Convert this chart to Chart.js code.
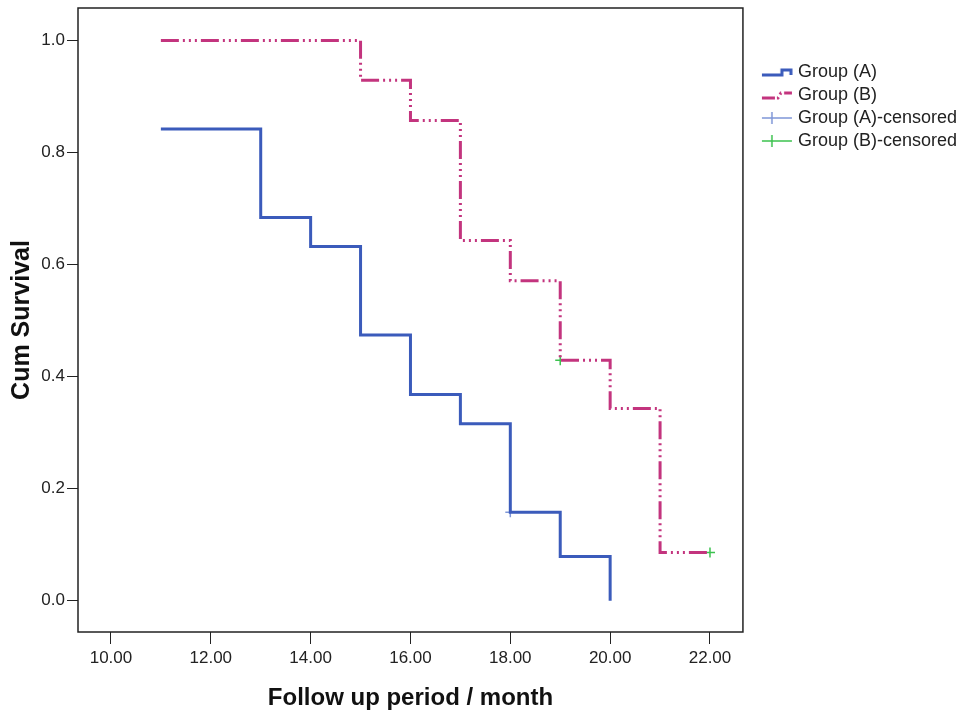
<!DOCTYPE html>
<html>
<head>
<meta charset="utf-8">
<script src="https://cdn.jsdelivr.net/npm/chart.js@4.4.0/dist/chart.umd.min.js"></script>
<style>
  body { margin: 0; background: #fff; }
</style>
</head>
<body>
<canvas id="kmChart" width="967" height="717"></canvas>
<script>
// Curvas de supervivencia (Kaplan-Meier)
const timesA = [11, 13, 14, 15, 16, 17, 18, 19, 20];
const survA = [0.842, 0.684, 0.632, 0.474, 0.368, 0.316, 0.158, 0.079, 0.0];
const timesB = [11, 15, 16, 17, 18, 19, 20, 21, 22];
const survB = [1.0, 0.929, 0.857, 0.643, 0.571, 0.429, 0.343, 0.086, 0.086];

// casos censurados
const censTimesA = [18];
const censSurvA = [0.158];
const censTimesB = [19, 22];
const censSurvB = [0.429, 0.086];

const xTicks = [10, 12, 14, 16, 18, 20, 22];
const yTicks = [0.0, 0.2, 0.4, 0.6, 0.8, 1.0];
const seriesNames = ["Group (A)", "Group (B)", "Group (A)-censored", "Group (B)-censored"];

const colorA = "#3b5bbb";
const colorB = "#c3347e";
const colorCensA = "#7f97d8";
const colorCensB = "#3cc24f";
const dashB = [18, 4, 2, 4, 2, 4, 2, 4];
const FONT = "'Liberation Sans', Arial, sans-serif";

function toPoints(xs, ys) {
  return xs.map((x, i) => ({ x: x, y: ys[i] }));
}

// iconos de la leyenda (linea escalonada / cruz)
function makeIcon(kind) {
  const c = document.createElement("canvas");
  c.width = 32;
  c.height = 14;
  const g = c.getContext("2d");
  g.lineWidth = 3;
  if (kind === "A") {
    g.strokeStyle = colorA;
    g.beginPath();
    g.moveTo(1, 10);
    g.lineTo(21, 10);
    g.lineTo(21, 5);
    g.lineTo(30, 5);
    g.lineTo(30, 10);
    g.stroke();
  } else if (kind === "B") {
    g.strokeStyle = colorB;
    g.setLineDash([13, 2, 2, 3, 2, 3]);
    g.beginPath();
    g.moveTo(1, 10);
    g.lineTo(17, 10);
    g.lineTo(20, 5);
    g.lineTo(31, 5);
    g.stroke();
  } else {
    g.lineWidth = 1.5;
    g.strokeStyle = kind === "cA" ? colorCensA : colorCensB;
    g.beginPath();
    g.moveTo(1, 7);
    g.lineTo(31, 7);
    g.moveTo(11, 1);
    g.lineTo(11, 13);
    g.stroke();
  }
  return c;
}

// marco alrededor del area del grafico
const framePlugin = {
  id: "frame",
  afterDraw(chart) {
    const { ctx, chartArea } = chart;
    ctx.save();
    ctx.strokeStyle = "#222";
    ctx.lineWidth = 1.5;
    ctx.strokeRect(chartArea.left, chartArea.top,
      chartArea.right - chartArea.left, chartArea.bottom - chartArea.top);
    ctx.restore();
  },
};

const ctx = document.getElementById("kmChart");

new Chart(ctx, {
  type: "line",
  data: {
    datasets: [
      {
        label: seriesNames[0],
        data: toPoints(timesA, survA),
        borderColor: colorA,
        borderWidth: 3,
        stepped: true,
        pointRadius: 0,
        fill: false,
      },
      {
        label: seriesNames[1],
        data: toPoints(timesB, survB),
        borderColor: colorB,
        borderWidth: 3,
        borderDash: dashB,
        stepped: true,
        pointRadius: 0,
        fill: false,
      },
      {
        label: seriesNames[2],
        data: toPoints(censTimesA, censSurvA),
        showLine: false,
        borderColor: colorCensA,
        pointRadius: 5,
        pointBorderWidth: 1.5,
        pointStyle: "cross",
      },
      {
        label: seriesNames[3],
        data: toPoints(censTimesB, censSurvB),
        showLine: false,
        borderColor: colorCensB,
        pointRadius: 5,
        pointBorderWidth: 1.5,
        pointStyle: "cross",
      },
    ],
  },
  options: {
    responsive: false,
    animation: false,
    layout: { padding: { top: 0, right: 0, bottom: 0, left: 0 } },
    plugins: {
      tooltip: { enabled: false },
      legend: {
        position: "right",
        align: "start",
        maxWidth: 300,
        title: { display: true, text: " ", font: { size: 10 }, padding: { top: 46, bottom: 0 } },
        labels: {
          usePointStyle: true,
          pointStyleWidth: 24,
          padding: 5,
          color: "#222",
          font: { family: FONT, size: 18 },
          generateLabels(chart) {
            const icons = [makeIcon("A"), makeIcon("B"), makeIcon("cA"), makeIcon("cB")];
            return chart.data.datasets.map((ds, i) => ({
              text: ds.label,
              pointStyle: icons[i],
              fillStyle: "transparent",
              strokeStyle: "transparent",
              lineWidth: 0,
              hidden: false,
              datasetIndex: i,
              fontColor: "#222",
            }));
          },
        },
      },
    },
    scales: {
      x: {
        type: "linear",
        min: 9.34,
        max: 22.66,
        afterFit(scale) { scale.height = 85; },
        afterBuildTicks(scale) { scale.ticks = xTicks.map(v => ({ value: v })); },
        grid: { drawOnChartArea: false, drawTicks: true, tickLength: 12, color: "#222" },
        border: { display: false },
        ticks: {
          padding: 4,
          color: "#222",
          font: { family: FONT, size: 17 },
          callback: v => Number(v).toFixed(2),
        },
        title: {
          display: true,
          text: "Follow up period / month",
          color: "#111",
          font: { family: FONT, size: 24, weight: "bold" },
          padding: { top: 0, bottom: 4 },
        },
      },
      y: {
        type: "linear",
        min: -0.056,
        max: 1.058,
        afterFit(scale) {
          scale.width = 78;
          scale.paddingTop = 8;
          scale.paddingBottom = 0;
        },
        afterBuildTicks(scale) { scale.ticks = yTicks.map(v => ({ value: v })); },
        grid: { drawOnChartArea: false, drawTicks: true, tickLength: 11, color: "#222" },
        border: { display: false },
        ticks: {
          padding: 2,
          color: "#222",
          font: { family: FONT, size: 17 },
          callback: v => Number(v).toFixed(1),
        },
        title: {
          display: true,
          text: "Cum Survival",
          color: "#111",
          font: { family: FONT, size: 25, weight: "bold" },
          padding: { top: 7, bottom: 0 },
        },
      },
      // espacio vacio entre el grafico y la leyenda
      gap: {
        type: "linear",
        position: "right",
        afterFit(scale) {
          scale.width = 17;
          scale.paddingTop = 0;
          scale.paddingBottom = 0;
        },
        grid: { display: false },
        border: { display: false },
        ticks: { display: false },
      },
    },
  },
  plugins: [framePlugin],
});
</script>
</body>
</html>
